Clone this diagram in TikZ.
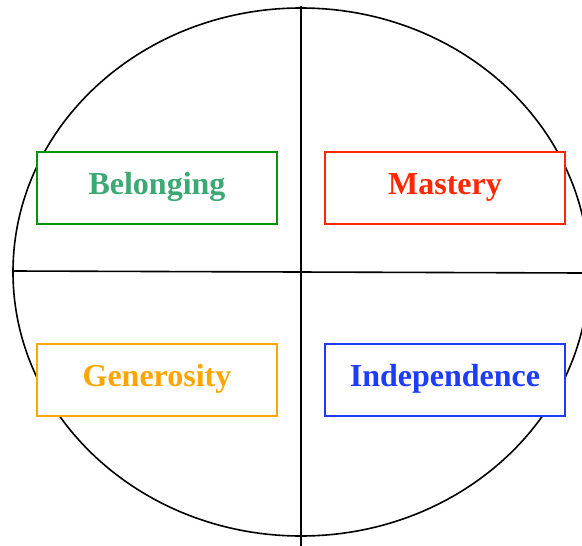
\documentclass[tikz,border=0pt]{standalone}
\usepackage{fontspec}
\setmainfont{Liberation Serif}
\definecolor{bgreen}{RGB}{0,150,0}
\definecolor{tgreen}{RGB}{60,168,115}
\definecolor{mred}{RGB}{255,40,0}
\definecolor{gorange}{RGB}{255,165,0}
\definecolor{iblue}{RGB}{30,60,255}
\begin{document}
\begin{tikzpicture}[x=1pt,y=-1pt,
  quad/.style={draw, fill=white, line width=1.5pt, minimum width=240pt, minimum height=72pt, inner sep=0pt},
  lbl/.style={font=\bfseries\fontsize{32}{36}\selectfont, inner sep=0pt}]
\useasboundingbox (0,0) rectangle (582,546);
\coordinate (c) at (301,272);
\draw[line width=1.6pt] (c) ellipse [x radius=288, y radius=264];
\coordinate (vt) at (301,6);
\coordinate (vb) at (301,546);
\coordinate (hl) at (13,271);
\coordinate (hr) at (582,273);
\draw[line width=1.6pt] (vt) -- (vb);
\draw[line width=1.6pt] (hl) -- (hr);
\node[quad, draw=bgreen] (bel) at (157,188) {};
\node[quad, draw=mred] (mas) at (445,188) {};
\node[quad, draw=gorange] (gen) at (157,380) {};
\node[quad, draw=iblue] (ind) at (445,380) {};
\node[lbl, text=tgreen] (tbel) at ([yshift=1pt]bel.center) {Belonging};
\node[lbl, text=mred] (tmas) at ([yshift=1pt]mas.center) {Mastery};
\node[lbl, text=gorange] (tgen) at ([yshift=1pt]gen.center) {Generosity};
\node[lbl, text=iblue] (tind) at ([yshift=1pt]ind.center) {Independence};
\end{tikzpicture}
\end{document}
